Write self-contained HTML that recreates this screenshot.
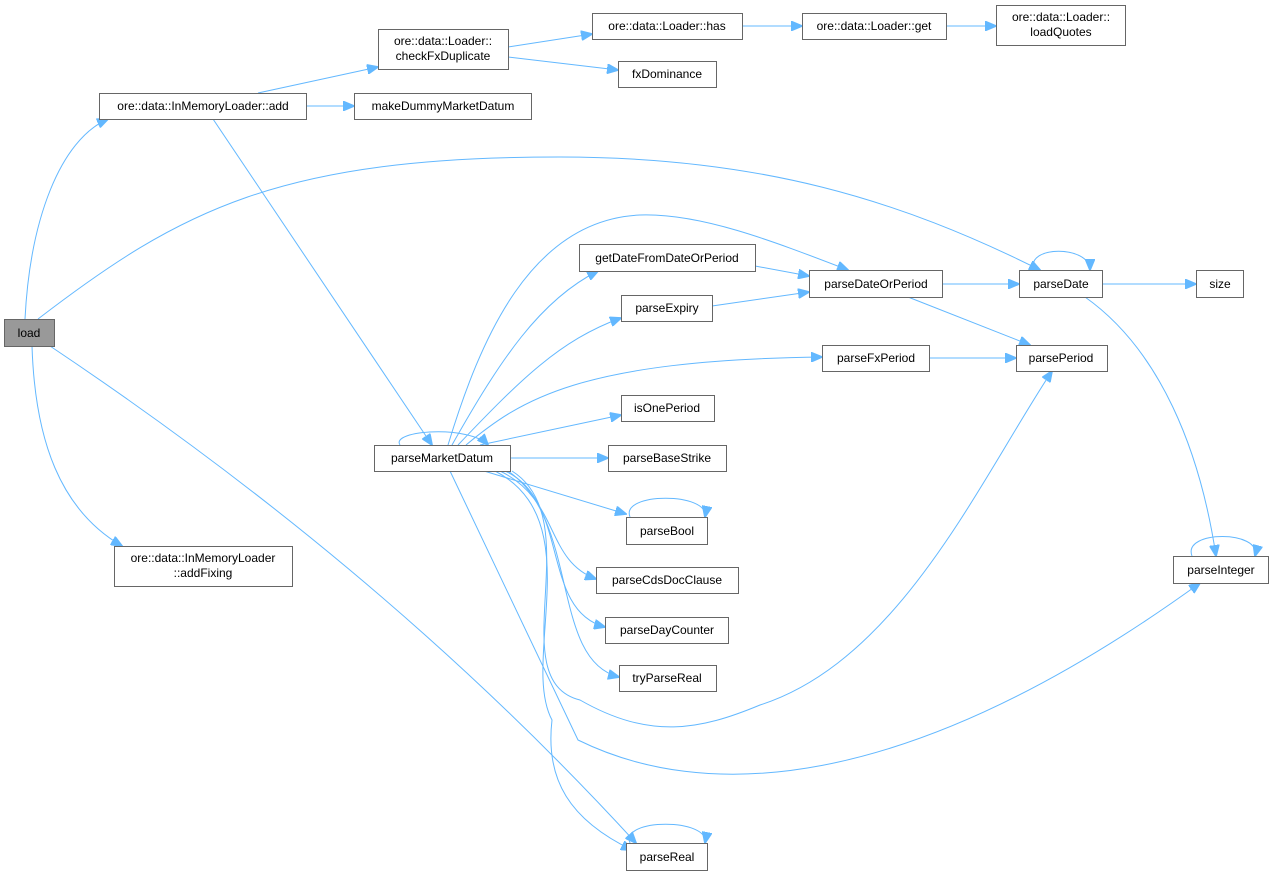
<!DOCTYPE html>
<html><head><meta charset="utf-8"><style>
html,body{margin:0;padding:0;background:#fff;}
svg{display:block}
text{font-family:"Liberation Sans",Arial,sans-serif;font-size:12px;fill:#000}
.n{fill:#fff;stroke:#666;stroke-width:1}
.e{fill:none;stroke:#63b8ff;stroke-width:1}
</style></head><body>
<svg width="1272" height="874" viewBox="0 0 1272 874" xmlns="http://www.w3.org/2000/svg">
<defs><marker id="a" markerWidth="12" markerHeight="10" refX="11" refY="5" orient="auto" markerUnits="userSpaceOnUse"><path d="M0,0 L12,5 L0,10 z" fill="#63b8ff" stroke="#63b8ff"/></marker></defs>
<g class="e" marker-end="url(#a)">
<path d="M25,319 C30,220 60,140 108,119"/>
<path d="M38,319 C180,210 280,157 560,157 C760,157 900,200 1040,270"/>
<path d="M50,346 C250,480 450,640 636,843"/>
<path d="M32,346 C35,440 60,510 122,546"/>
<path d="M258,93 L378,67"/>
<path d="M306,106 L354,106"/>
<path d="M213,119 L432,445"/>
<path d="M508,47 L592,34"/>
<path d="M508,57 L618,70"/>
<path d="M742,26 L802,26"/>
<path d="M946,26 L996,26"/>
<path d="M448,445 C480,340 530,220 640,215 C700,213 770,240 848,270"/>
<path d="M452,445 C500,360 540,300 598,271"/>
<path d="M458,445 C520,380 560,340 621,318"/>
<path d="M466,445 C520,400 580,360 822,357"/>
<path d="M480,445 L621,415"/>
<path d="M510,458 L608,458"/>
<path d="M484,471 L626,514"/>
<path d="M500,471 C560,500 545,560 596,579"/>
<path d="M505,471 C570,500 540,610 605,627"/>
<path d="M508,471 C580,520 550,660 619,677"/>
<path d="M512,471 C590,520 500,680 580,700 C650,740 700,730 760,705 C900,660 980,480 1052,371"/>
<path d="M450,471 L578,740 C700,800 900,800 1200,583"/>
<path d="M495,471 C590,520 520,660 552,720 C545,780 570,820 632,850"/>
<path d="M400,445 C390,430 470,425 488,445"/>
<path d="M755,266 L809,276"/>
<path d="M712,306 L809,292"/>
<path d="M942,284 L1019,284"/>
<path d="M908,297 L1030,345"/>
<path d="M929,358 L1016,358"/>
<path d="M1102,284 L1196,284"/>
<path d="M1085,297 C1160,350 1200,450 1216,556"/>
<path d="M1034,270 C1025,245 1090,245 1090,270"/>
<path d="M630,517 C620,492 710,492 705,517"/>
<path d="M630,843 C620,818 710,818 705,843"/>
<path d="M1192,556 C1182,530 1262,530 1255,556"/>
</g>
<rect x="4.5" y="319.5" width="50" height="27" fill="#999" stroke="#666"/><text x="29" y="337" text-anchor="middle">load</text>
<rect class="n" x="99.5" y="93.5" width="207" height="26"/><text x="203" y="110" text-anchor="middle">ore::data::InMemoryLoader::add</text>
<rect class="n" x="378.5" y="29.5" width="130" height="40"/><text x="443" y="45" text-anchor="middle">ore::data::Loader::</text><text x="443" y="60" text-anchor="middle">checkFxDuplicate</text>
<rect class="n" x="354.5" y="93.5" width="177" height="26"/><text x="443" y="110" text-anchor="middle">makeDummyMarketDatum</text>
<rect class="n" x="592.5" y="13.5" width="150" height="26"/><text x="667" y="30" text-anchor="middle">ore::data::Loader::has</text>
<rect class="n" x="802.5" y="13.5" width="144" height="26"/><text x="874" y="30" text-anchor="middle">ore::data::Loader::get</text>
<rect class="n" x="996.5" y="5.5" width="129" height="40"/><text x="1061" y="21" text-anchor="middle">ore::data::Loader::</text><text x="1061" y="36" text-anchor="middle">loadQuotes</text>
<rect class="n" x="618.5" y="61.5" width="98" height="26"/><text x="667" y="78" text-anchor="middle">fxDominance</text>
<rect class="n" x="579.5" y="244.5" width="176" height="27"/><text x="667" y="262" text-anchor="middle">getDateFromDateOrPeriod</text>
<rect class="n" x="809.5" y="270.5" width="133" height="27"/><text x="876" y="288" text-anchor="middle">parseDateOrPeriod</text>
<rect class="n" x="1019.5" y="270.5" width="83" height="27"/><text x="1061" y="288" text-anchor="middle">parseDate</text>
<rect class="n" x="1196.5" y="270.5" width="47" height="27"/><text x="1220" y="288" text-anchor="middle">size</text>
<rect class="n" x="621.5" y="295.5" width="91" height="26"/><text x="667" y="312" text-anchor="middle">parseExpiry</text>
<rect class="n" x="822.5" y="345.5" width="107" height="26"/><text x="876" y="362" text-anchor="middle">parseFxPeriod</text>
<rect class="n" x="1016.5" y="345.5" width="91" height="26"/><text x="1061" y="362" text-anchor="middle">parsePeriod</text>
<rect class="n" x="621.5" y="395.5" width="93" height="26"/><text x="667" y="412" text-anchor="middle">isOnePeriod</text>
<rect class="n" x="374.5" y="445.5" width="136" height="26"/><text x="442" y="462" text-anchor="middle">parseMarketDatum</text>
<rect class="n" x="608.5" y="445.5" width="118" height="26"/><text x="667" y="462" text-anchor="middle">parseBaseStrike</text>
<rect class="n" x="626.5" y="517.5" width="81" height="27"/><text x="667" y="535" text-anchor="middle">parseBool</text>
<rect class="n" x="596.5" y="567.5" width="142" height="26"/><text x="667" y="584" text-anchor="middle">parseCdsDocClause</text>
<rect class="n" x="605.5" y="617.5" width="123" height="26"/><text x="667" y="634" text-anchor="middle">parseDayCounter</text>
<rect class="n" x="619.5" y="665.5" width="97" height="26"/><text x="667" y="682" text-anchor="middle">tryParseReal</text>
<rect class="n" x="1173.5" y="556.5" width="95" height="27"/><text x="1221" y="574" text-anchor="middle">parseInteger</text>
<rect class="n" x="114.5" y="546.5" width="178" height="40"/><text x="203" y="562" text-anchor="middle">ore::data::InMemoryLoader</text><text x="203" y="577" text-anchor="middle">::addFixing</text>
<rect class="n" x="626.5" y="843.5" width="81" height="27"/><text x="667" y="861" text-anchor="middle">parseReal</text>
</svg>
</body></html>
